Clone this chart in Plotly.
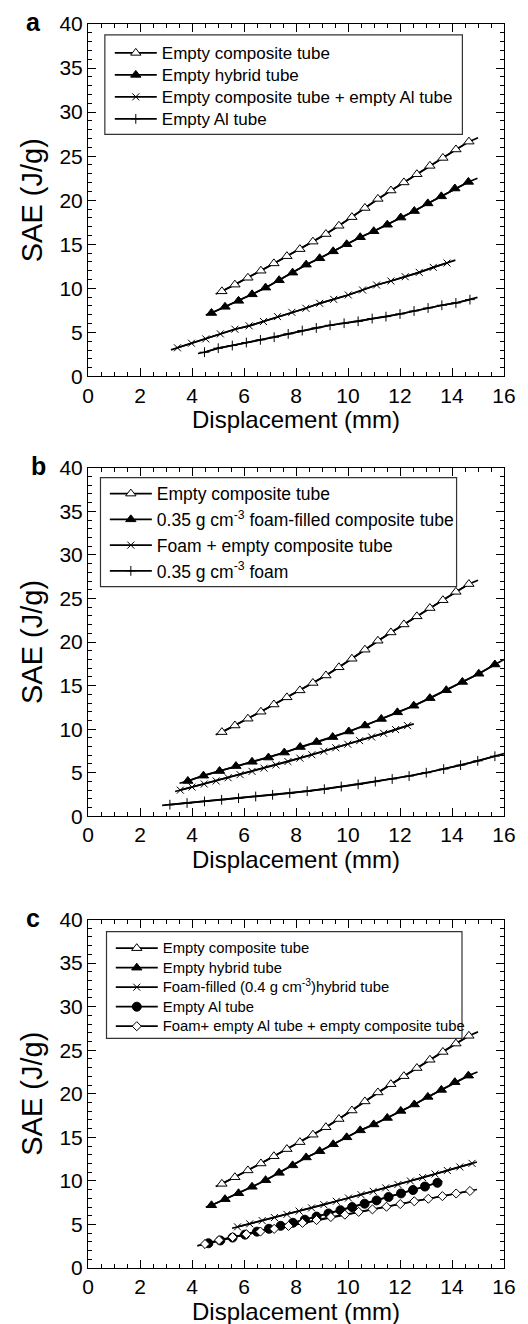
import plotly.graph_objects as go

# ---------------- data ----------------
# For every series, *_LX / *_LY hold the two ends of the curve
# and *_MX / *_MY hold the points that carry markers.

# Empty composite tube (same curve in a, b and c)
COMP_LX = [4.91, 15.0]
COMP_LY = [9.35, 27.1]
COMP_MX = [5.15, 5.65, 6.15, 6.65, 7.15, 7.65, 8.15, 8.65, 9.15, 9.65,
           10.15, 10.65, 11.15, 11.65, 12.15, 12.65, 13.15, 13.65, 14.15, 14.65]
COMP_MY = [9.66, 10.42, 11.2, 12.0, 12.83, 13.65, 14.45, 15.3, 16.16, 17.1,
           18.08, 19.12, 20.15, 21.1, 22.02, 22.95, 23.9, 24.8, 25.76, 26.65]

# Empty hybrid tube (a and c)
HYB_LX = [4.53, 14.98]
HYB_LY = [6.98, 22.5]
HYB_MX = [4.75, 5.27, 5.79, 6.31, 6.83, 7.35, 7.87, 8.39, 8.91, 9.43,
          9.95, 10.47, 10.99, 11.51, 12.03, 12.55, 13.07, 13.59, 14.11, 14.63]
HYB_MY = [7.2, 7.9, 8.58, 9.32, 10.08, 10.92, 11.78, 12.69, 13.41, 14.2,
          15.0, 15.8, 16.48, 17.22, 18.03, 18.77, 19.64, 20.44, 21.33, 22.08]

# (a) Empty composite tube + empty Al tube
CAL_LX = [3.19, 14.13]
CAL_LY = [3.02, 13.2]
CAL_MX = [3.44, 3.98, 4.53, 5.09, 5.65, 6.2, 6.75, 7.29, 7.84, 8.38,
          8.91, 9.45, 10.01, 10.56, 11.1, 11.65, 12.2, 12.74, 13.28, 13.81]
CAL_MY = [3.25, 3.77, 4.26, 4.83, 5.36, 5.74, 6.23, 6.79, 7.28, 7.74,
          8.3, 8.75, 9.25, 9.81, 10.38, 10.83, 11.32, 11.81, 12.38, 12.87]

# (a) Empty Al tube
AL_LX = [4.23, 14.98]
AL_LY = [2.6, 8.98]
AL_MX = [4.48, 5.01, 5.55, 6.09, 6.63, 7.16, 7.7, 8.24, 8.78, 9.31,
         9.85, 10.39, 10.93, 11.46, 12.0, 12.54, 13.08, 13.61, 14.15, 14.69]
AL_MY = [2.75, 3.21, 3.51, 3.85, 4.15, 4.45, 4.83, 5.21, 5.51, 5.81,
         6.04, 6.26, 6.57, 6.79, 7.09, 7.43, 7.77, 8.08, 8.34, 8.72]

# (b) 0.35 g cm-3 foam-filled composite tube
FFC_LX = [3.52, 16.0]
FFC_LY = [3.79, 18.0]
FFC_MX = [3.84, 4.44, 5.06, 5.69, 6.31, 6.94, 7.55, 8.16, 8.79, 9.41,
          10.03, 10.65, 11.28, 11.9, 12.53, 13.15, 13.78, 14.4, 15.03, 15.65]
FFC_MY = [4.05, 4.66, 5.19, 5.76, 6.25, 6.74, 7.31, 7.95, 8.52, 9.09,
          9.73, 10.42, 11.17, 11.93, 12.69, 13.56, 14.47, 15.42, 16.36, 17.42]

# (b) Foam + empty composite tube
FEC_LX = [3.35, 12.53]
FEC_LY = [2.84, 10.6]
FEC_MX = [3.55, 4.0, 4.47, 4.93, 5.39, 5.85, 6.31, 6.77, 7.23, 7.69,
          8.15, 8.61, 9.07, 9.53, 9.99, 10.45, 10.91, 11.37, 11.83, 12.29]
FEC_MY = [3.0, 3.35, 3.7, 4.05, 4.42, 4.78, 5.15, 5.52, 5.9, 6.28,
          6.67, 7.06, 7.46, 7.86, 8.27, 8.68, 9.1, 9.52, 9.95, 10.4]

# (b) 0.35 g cm-3 foam
FOAM_LX = [2.85, 16.0]
FOAM_LY = [1.25, 7.2]
FOAM_MX = [3.15, 3.81, 4.48, 5.14, 5.79, 6.45, 7.1, 7.76, 8.43, 9.09,
           9.74, 10.39, 11.05, 11.7, 12.35, 13.01, 13.68, 14.33, 14.99, 15.65]
FOAM_MY = [1.33, 1.52, 1.7, 1.89, 2.08, 2.27, 2.46, 2.65, 2.88, 3.11,
           3.41, 3.67, 3.98, 4.28, 4.62, 5.0, 5.42, 5.87, 6.36, 6.89]

# (c) Foam-filled (0.4 g cm-3) hybrid tube
FFH_LX = [5.54, 14.96]
FFH_LY = [4.56, 12.17]
FFH_MX = [5.75, 6.22, 6.70, 7.17, 7.65, 8.12, 8.60, 9.07, 9.55, 10.02,
          10.50, 10.97, 11.45, 11.92, 12.40, 12.87, 13.35, 13.82, 14.30, 14.77]
FFH_MY = [4.72, 5.07, 5.44, 5.79, 6.16, 6.53, 6.90, 7.27, 7.66, 8.03,
          8.42, 8.80, 9.20, 9.59, 9.99, 10.38, 10.79, 11.19, 11.60, 12.01]

# (c) Empty Al tube
ALC_LX = [4.21, 13.63]
ALC_LY = [2.55, 9.95]
ALC_MX = [4.63, 5.09, 5.56, 6.04, 6.50, 6.96, 7.41, 7.88, 8.34, 8.79,
          9.25, 9.71, 10.16, 10.64, 11.10, 11.56, 12.04, 12.50, 12.96, 13.44]
ALC_MY = [2.84, 3.16, 3.49, 3.83, 4.17, 4.50, 4.84, 5.19, 5.54, 5.90,
          6.26, 6.63, 6.99, 7.38, 7.76, 8.15, 8.56, 8.95, 9.35, 9.78]

# (c) Foam + empty Al tube + empty composite tube
FAC_LX = [4.21, 14.96]
FAC_LY = [2.55, 9.01]
FAC_MX = [4.5, 5.04, 5.56, 6.09, 6.63, 7.16, 7.71, 8.25, 8.79, 9.34,
          9.88, 10.41, 10.94, 11.48, 12.01, 12.55, 13.09, 13.63, 14.16, 14.69]
FAC_MY = [2.75, 3.2, 3.54, 3.88, 4.18, 4.49, 4.83, 5.18, 5.5, 5.85,
          6.12, 6.44, 6.73, 7.03, 7.34, 7.66, 7.95, 8.25, 8.55, 8.84]

X_RANGE = [0, 16]
Y_RANGE = [0, 40]
X_TITLE = "Displacement (mm)"
Y_TITLE = "SAE (J/g)"
PANEL_LABELS = ["a", "b", "c"]

FONT = "Liberation Sans, Arial, Helvetica, sans-serif"

fig = go.Figure()


def big(text, px):
    """Legend text drawn a little larger than the legend row height."""
    return '<span style="font-size:%spx">%s</span>' % (px, text)


def add_series(lx, ly, mx, my, name, symbol, size, fill, panel):
    ax = "" if panel == 1 else str(panel)
    leg = "legend" if panel == 1 else "legend" + str(panel)
    full_x = [lx[0]] + mx + [lx[1]]
    full_y = [ly[0]] + my + [ly[1]]
    fig.add_trace(go.Scatter(
        x=full_x, y=full_y, mode="lines", showlegend=False, hoverinfo="skip",
        line=dict(color="black", width=1.7), xaxis="x" + ax, yaxis="y" + ax))
    fig.add_trace(go.Scatter(
        x=mx, y=my, name=name, mode="lines+markers", legend=leg,
        line=dict(color="black", width=1.7),
        marker=dict(symbol=symbol, size=size, color=fill,
                    line=dict(color="black", width=1)),
        xaxis="x" + ax, yaxis="y" + ax))


# panel a
A_PX = 17
add_series(COMP_LX, COMP_LY, COMP_MX, COMP_MY, big("Empty composite tube", A_PX), "triangle-up", 9, "white", 1)
add_series(HYB_LX, HYB_LY, HYB_MX, HYB_MY, big("Empty hybrid tube", A_PX), "triangle-up", 9, "black", 1)
add_series(CAL_LX, CAL_LY, CAL_MX, CAL_MY, big("Empty composite tube + empty Al tube", A_PX), "x-thin-open", 7, "black", 1)
add_series(AL_LX, AL_LY, AL_MX, AL_MY, big("Empty Al tube", A_PX), "cross-thin-open", 7, "black", 1)

# panel b
add_series(COMP_LX, COMP_LY, COMP_MX, COMP_MY, "Empty composite tube", "triangle-up", 9, "white", 2)
add_series(FFC_LX, FFC_LY, FFC_MX, FFC_MY, "0.35 g cm<sup>-3</sup> foam-filled composite tube", "triangle-up", 9, "black", 2)
add_series(FEC_LX, FEC_LY, FEC_MX, FEC_MY, "Foam + empty composite tube", "x-thin-open", 7, "black", 2)
add_series(FOAM_LX, FOAM_LY, FOAM_MX, FOAM_MY, "0.35 g cm<sup>-3</sup> foam", "cross-thin-open", 7, "black", 2)

# panel c
C_PX = 14.8
add_series(COMP_LX, COMP_LY, COMP_MX, COMP_MY, big("Empty composite tube", C_PX), "triangle-up", 9, "white", 3)
add_series(HYB_LX, HYB_LY, HYB_MX, HYB_MY, big("Empty hybrid tube", C_PX), "triangle-up", 9, "black", 3)
add_series(FFH_LX, FFH_LY, FFH_MX, FFH_MY, big("Foam-filled (0.4 g cm<sup>-3</sup>)hybrid tube", C_PX), "x-thin-open", 7, "black", 3)
add_series(ALC_LX, ALC_LY, ALC_MX, ALC_MY, big("Empty Al tube", C_PX), "circle", 9, "black", 3)
add_series(FAC_LX, FAC_LY, FAC_MX, FAC_MY, big("Foam+ empty Al tube + empty composite tube", C_PX), "diamond", 7, "white", 3)

# ---------------- layout ----------------
L, R, T, B = 88, 20, 15, 56
W, H = 528, 1324
PH = H - T - B
PW = W - L - R
panels_px = [(15, 370), (462, 813), (917, 1268)]  # top, bottom in pixels


def ydom(top, bot):
    return [(H - B - bot) / PH, (H - B - top) / PH]


def axis_common():
    return dict(showline=True, linecolor="black", linewidth=1, mirror="allticks",
                ticks="inside", ticklen=8, tickwidth=1, tickcolor="black",
                showgrid=False, zeroline=False,
                tickfont=dict(family=FONT, size=21, color="black"))


layout = dict(width=W, height=H, margin=dict(l=L, r=R, t=T, b=B),
              paper_bgcolor="white", plot_bgcolor="white",
              font=dict(family=FONT, color="black"))

for i, (top, bot) in enumerate(panels_px, start=1):
    ax = "" if i == 1 else str(i)
    xa = axis_common()
    xa.update(range=X_RANGE, tick0=0, dtick=2, domain=[0, 1], anchor="y" + ax,
              minor=dict(dtick=0.5, ticks="inside", ticklen=4, tickwidth=1,
                         tickcolor="black", showgrid=False))
    ya = axis_common()
    ya.update(range=Y_RANGE, tick0=0, dtick=5, domain=ydom(top, bot), anchor="x" + ax,
              minor=dict(dtick=1, ticks="inside", ticklen=4, tickwidth=1,
                         tickcolor="black", showgrid=False))
    layout["xaxis" + ax] = xa
    layout["yaxis" + ax] = ya

legend_base = dict(xanchor="left", yanchor="top", bgcolor="rgba(0,0,0,0)",
                   borderwidth=0, itemwidth=42, tracegroupgap=0)
layout["legend"] = dict(legend_base, x=(110 - L) / PW, y=(H - B - 28) / PH,
                        font=dict(family=FONT, size=14.6, color="black"))
layout["legend2"] = dict(legend_base, x=(105 - L) / PW, y=(H - B - 470) / PH,
                         font=dict(family=FONT, size=17.5, color="black"))
layout["legend3"] = dict(legend_base, x=(111 - L) / PW, y=(H - B - 931) / PH,
                         font=dict(family=FONT, size=12.7, color="black"))

fig.update_layout(**layout)

# legend frames
boxes = [(0.0405, 0.9, 0.687, 0.969), (0.030, 0.886, 0.659, 0.972), (0.0445, 0.899, 0.659, 0.965)]
for i, (x0, x1, y0, y1) in enumerate(boxes, start=1):
    ax = "" if i == 1 else str(i)
    fig.add_shape(type="rect", xref="x" + ax + " domain", yref="y" + ax + " domain",
                  x0=x0, x1=x1, y0=y0, y1=y1, line=dict(color="#333333", width=1.2),
                  fillcolor="rgba(0,0,0,0)")

# axis titles and panel letters
letter_shift = [-55, -50, -55]
for i in range(1, 4):
    ax = "" if i == 1 else str(i)
    fig.add_annotation(text=X_TITLE, xref="x" + ax + " domain", yref="y" + ax + " domain",
                       x=0.5, y=0, xanchor="center", yanchor="middle", yshift=-43,
                       showarrow=False, font=dict(family=FONT, size=24, color="black"))
    fig.add_annotation(text=Y_TITLE, xref="x" + ax + " domain", yref="y" + ax + " domain",
                       x=0, y=0.5, xanchor="center", yanchor="middle", xshift=-56,
                       textangle=-90, showarrow=False,
                       font=dict(family=FONT, size=29, color="black"))
    fig.add_annotation(text="<b>" + PANEL_LABELS[i - 1] + "</b>", xref="x" + ax + " domain",
                       yref="y" + ax + " domain", x=0, y=1, xanchor="center",
                       yanchor="middle", xshift=letter_shift[i - 1], yshift=2,
                       showarrow=False, font=dict(family=FONT, size=25, color="black"))

fig.write_html("out.html")
